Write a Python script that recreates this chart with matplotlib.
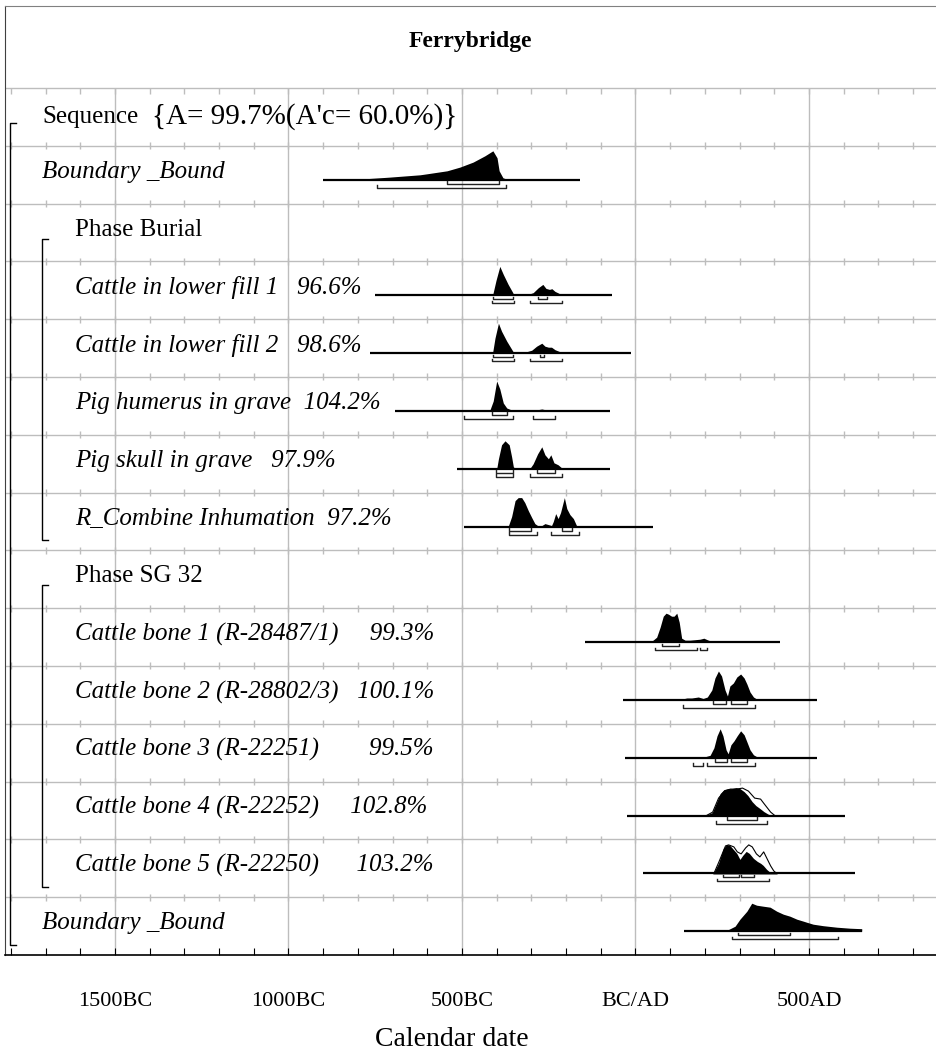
import numpy as np
import matplotlib.pyplot as plt
from matplotlib.ticker import MultipleLocator

# ---- values (years, negative = BC) ----
title = 'Ferrybridge'
x_label = 'Calendar date'
tick_years = [-1500, -1000, -500, 0, 500]
tick_labels = ['1500BC', '1000BC', '500BC', 'BC/AD', '500AD']

seq_name = 'Sequence'
seq_agreement = "{A= 99.7%(A'c= 60.0%)}"
row_labels = [
    '',
    'Boundary _Bound',
    'Phase Burial',
    'Cattle in lower fill 1   96.6%',
    'Cattle in lower fill 2   98.6%',
    'Pig humerus in grave  104.2%',
    'Pig skull in grave   97.9%',
    'R_Combine Inhumation  97.2%',
    'Phase SG 32',
    'Cattle bone 1 (R-28487/1)     99.3%',
    'Cattle bone 2 (R-28802/3)   100.1%',
    'Cattle bone 3 (R-22251)        99.5%',
    'Cattle bone 4 (R-22252)     102.8%',
    'Cattle bone 5 (R-22250)      103.2%',
    'Boundary _Bound',
]
row_italic = [False, True, False, True, True, True, True, True, False, True, True, True, True, True, True]
row_indent = [0, 0, 1, 1, 1, 1, 1, 1, 1, 1, 1, 1, 1, 1, 0]

# start boundary
start_yr = [-900, -823, -708, -621, -601, -543, -506, -468, -434, -411, -399, -393, -382, -370, -160]
start_p = [0, 0, 2.7, 5, 6, 9, 12.7, 17.7, 24, 29, 22, 9, 2, 0.5, 0]
start_span = [-900, -160]
start_r68 = [(-543, -393)]
start_r95 = [(-745, -372)]

# cattle in lower fill 1
fill1_yr = [-412, -402, -391, -381, -367, -354, -350, -314, -295, -280, -267, -258, -248, -241, -232, -223, -213, -203]
fill1_p = [0, 15, 29, 21, 11, 3, 0, 0.5, 2.7, 7.7, 11, 7, 6, 6.7, 4, 2.5, 0.5, 0]
fill1_span = [-751, -69]
fill1_r68 = [(-412, -354), (-282, -254)]
fill1_r95 = [(-414, -350), (-304, -213)]

# cattle in lower fill 2
fill2_yr = [-412, -405, -395, -386, -371, -357, -350, -323, -299, -285, -270, -261, -251, -242, -232, -218, -208]
fill2_p = [0, 15, 30, 22, 12, 4, 0, 0.5, 3, 7, 10, 7, 6, 6, 3.5, 1.5, 0]
fill2_span = [-765, -14]
fill2_r68 = [(-412, -354), (-275, -264)]
fill2_r95 = [(-414, -350), (-304, -213)]

# pig humerus in grave
hum_yr = [-535, -506, -477, -458, -439, -419, -410, -400, -391, -381, -371, -357, -342, -295, -270, -256, -237, -218]
hum_p = [0, 1.0, 1.5, 1, 0.5, 1.5, 10, 30, 22, 8, 3, 1, 0.3, 0.5, 2, 1, 0.5, 0]
hum_span = [-693, -74]
hum_r68 = [(-414, -371)]
hum_r95 = [(-493, -352), (-295, -232)]

# pig skull in grave
skull_yr = [-400, -395, -386, -376, -364, -357, -352, -347, -304, -295, -282, -270, -261, -251, -244, -235, -223, -213, -206]
skull_p = [0, 10, 24, 28, 24, 12, 2, 0.3, 0.5, 5, 15, 22, 14, 10, 14, 6, 4, 1, 0]
skull_span = [-515, -74]
skull_r68 = [(-402, -352), (-285, -232)]
skull_r95 = [(-402, -352), (-304, -213)]

# R_Combine Inhumation
comb_yr = [-367, -357, -347, -338, -328, -319, -309, -299, -290, -280, -270, -261, -251, -242, -237,
           -230, -223, -216, -205, -198, -189, -179, -170, -165]
comb_p = [0, 10, 26, 29, 29, 24, 16, 9, 3, 0.5, 1, 3, 2, 1, 5, 13, 8, 14, 29, 18, 12, 8, 1, 0]
comb_span = [-494, 51]
comb_r68 = [(-364, -302), (-213, -182)]
comb_r95 = [(-364, -283), (-244, -164)]

# cattle bone 1
bone1_yr = [23, 47, 61, 71, 80, 88, 95, 104, 111, 119, 126, 133, 143, 157, 172, 186, 197, 210, 224, 234]
bone1_p = [0, 1, 5, 15, 26, 29, 28, 26, 26, 29, 20, 4, 2, 2, 2.5, 3, 4, 2, 0.5, 0]
bone1_span = [-146, 416]
bone1_r68 = [(76, 126)]
bone1_r95 = [(56, 176), (186, 207)]

# cattle bone 2
bone2_yr = [99, 128, 148, 162, 181, 195, 207, 220, 229, 239, 248, 258, 265, 272, 282, 292, 303, 313,
            321, 330, 340, 349, 364, 378, 388]
bone2_p = [0, 0.5, 2, 2, 3, 1.5, 3, 10, 22, 29, 24, 10, 4, 14, 17, 23, 26, 22, 16, 8, 3, 1, 1.5, 0.3, 0]
bone2_span = [-35, 522]
bone2_r68 = [(224, 261), (275, 322)]
bone2_r95 = [(136, 344)]

# cattle bone 3
bone3_yr = [99, 128, 157, 186, 200, 215, 226, 235, 244, 252, 261, 267, 275, 284, 293, 303, 313,
            321, 330, 340, 350, 365, 379, 388]
bone3_p = [0, 0.3, 1, 1.2, 1, 2.5, 10, 22, 29, 22, 8, 4, 13, 17, 22, 27, 23, 16, 8, 3, 1, 1.3, 0.3, 0]
bone3_span = [-30, 522]
bone3_r68 = [(229, 263), (275, 322)]
bone3_r95 = [(165, 195), (205, 344)]

# cattle bone 4 (posterior and unmodelled likelihood)
bone4_yr = [200, 221, 232, 244, 255, 267, 278, 290, 301, 313, 324, 336, 347, 359, 370, 382, 393]
bone4_p = [0, 3, 12, 22, 26, 27, 27, 28, 27, 24, 20, 14, 10, 7, 4, 1.5, 0]
bone4_like_yr = [200, 221, 238, 255, 272, 290, 307, 324, 342, 359, 370, 388, 402]
bone4_like_p = [0, 4, 18, 25, 27, 27, 28, 25, 18, 17, 12, 4, 0]
bone4_span = [-25, 604]
bone4_r68 = [(264, 350)]
bone4_r95 = [(232, 379)]

# cattle bone 5 (posterior and unmodelled likelihood)
bone5_yr = [224, 239, 253, 263, 272, 282, 292, 301, 309, 319, 328, 340, 351, 361, 368, 378, 388, 397]
bone5_p = [0, 10, 25, 29, 28, 24, 20, 14, 18, 22, 20, 15, 12, 10, 8, 4, 1, 0]
bone5_like_yr = [224, 239, 258, 267, 282, 292, 303, 316, 325, 335, 347, 357, 368, 378, 388, 397, 407]
bone5_like_p = [0, 12, 28, 29, 27, 22, 20, 26, 29, 27, 20, 17, 22, 15, 8, 3, 0]
bone5_span = [22, 633]
bone5_r68 = [(251, 299), (303, 342)]
bone5_r95 = [(236, 386)]

# end boundary
end_yr = [140, 244, 267, 287, 301, 321, 335, 349, 368, 388, 407, 426, 445, 465, 484, 493, 512, 541, 580, 618, 652]
end_p = [0, 0, 1.5, 5, 12, 20, 28, 26, 25, 24, 20, 17, 15, 12, 10, 9, 7, 5.5, 4, 3, 2.5]
end_span = [140, 652]
end_r68 = [(296, 445)]
end_r95 = [(277, 585)]

# row number -> distribution
dists = {
    2: (start_yr, start_p, start_span, start_r68, start_r95, None),
    4: (fill1_yr, fill1_p, fill1_span, fill1_r68, fill1_r95, None),
    5: (fill2_yr, fill2_p, fill2_span, fill2_r68, fill2_r95, None),
    6: (hum_yr, hum_p, hum_span, hum_r68, hum_r95, None),
    7: (skull_yr, skull_p, skull_span, skull_r68, skull_r95, None),
    8: (comb_yr, comb_p, comb_span, comb_r68, comb_r95, None),
    10: (bone1_yr, bone1_p, bone1_span, bone1_r68, bone1_r95, None),
    11: (bone2_yr, bone2_p, bone2_span, bone2_r68, bone2_r95, None),
    12: (bone3_yr, bone3_p, bone3_span, bone3_r68, bone3_r95, None),
    13: (bone4_yr, bone4_p, bone4_span, bone4_r68, bone4_r95, (bone4_like_yr, bone4_like_p)),
    14: (bone5_yr, bone5_p, bone5_span, bone5_r68, bone5_r95, (bone5_like_yr, bone5_like_p)),
    15: (end_yr, end_p, end_span, end_r68, end_r95, None),
}
# (first row, last row) of the grouping brackets, with their indent level
brackets = [(1, 15, 0), (3, 8, 1), (9, 14, 1)]

# ---- layout (pixels of the 936x1052 picture) ----
W, H = 936, 1052
TOP, BOT, ROW0, PITCH = 6, 955, 88, 57.8
XMIN, XMAX = -1817, 866
GRID = '#bdbdbd'

plt.rcParams['font.family'] = 'Liberation Serif'


def px2yr(px):
    return (px - 635.5) / 0.347


def row_top(r):
    return ROW0 + (r - 1) * PITCH


fig = plt.figure(figsize=(W / 100, H / 100), dpi=100)
ax = fig.add_axes([5 / W, 1 - BOT / H, 1 - 5 / W, (BOT - TOP) / H])
ax.set_xlim(XMIN, XMAX)
ax.set_ylim(BOT, TOP)

ax.spines['right'].set_visible(False)
ax.spines['top'].set_color('#808080')
ax.spines['left'].set_color('#404040')
ax.spines['bottom'].set_linewidth(1.2)
ax.set_yticks([])
ax.set_xticks(tick_years, tick_labels, fontsize=16)
ax.xaxis.set_minor_locator(MultipleLocator(100))
ax.tick_params(axis='x', which='both', direction='in', length=5, width=0.8, pad=27)

# grid: vertical every 500 years, horizontal row lines with 100-year ticks
ax.vlines(tick_years, ROW0, BOT, color=GRID, lw=1, zorder=0)
minor = np.arange(-1800, 801, 100)
for i in range(15):
    y = row_top(i + 1)
    ax.plot([XMIN, XMAX], [y, y], color=GRID, lw=1, zorder=0)
    if i == 0:
        ax.vlines(minor, y, y + 6, color=GRID, lw=1, zorder=0)
    else:
        ax.vlines(minor, y - 3.5, y + 3.5, color=GRID, lw=1, zorder=0)

# labels
ax.text(px2yr(42), row_top(1) + 29, seq_name, fontsize=18, va='center', ha='left')
ax.text(px2yr(152), row_top(1) + 29, seq_agreement, fontsize=21, va='center', ha='left')
for r, (lab, it, ind) in enumerate(zip(row_labels, row_italic, row_indent), start=1):
    if lab:
        ax.text(px2yr(42 + 33 * ind), row_top(r) + 26, lab, fontsize=18,
                style='italic' if it else 'normal', va='center', ha='left')

# group brackets
for r0, r1, ind in brackets:
    xb = px2yr(10 + 32 * ind)
    xe = px2yr(16 + 32 * ind)
    y0 = row_top(r0) + 35
    y1 = row_top(r1) + PITCH - 10
    ax.plot([xe, xb, xb, xe], [y0, y0, y1, y1], color='k', lw=1)


def bracket(a, b, y):
    ax.plot([a, a, b, b], [y - 2.5, y, y, y - 2.5], color='#222222', lw=1)


for r, (yr, p, span, r68, r95, like) in dists.items():
    base = row_top(r) + 34
    ax.plot(span, [base, base], color='k', lw=1.6, solid_capstyle='butt')
    if like is not None:
        ax.fill_between(like[0], base, base - np.array(like[1]), facecolor='white',
                        edgecolor='k', lw=0.8)
    ax.fill_between(yr, base, base - np.array(p), color='k', lw=0)
    for a, b in r68:
        bracket(a, b, base + 4)
    for a, b in r95:
        bracket(a, b, base + 8)

ax.text((XMIN + XMAX) / 2, 42, title, fontsize=17, fontweight='bold', ha='center', va='center')
fig.text(452 / W, 1 - 1040 / H, x_label, fontsize=20, ha='center', va='center')

fig.savefig('out.png', dpi=100)
